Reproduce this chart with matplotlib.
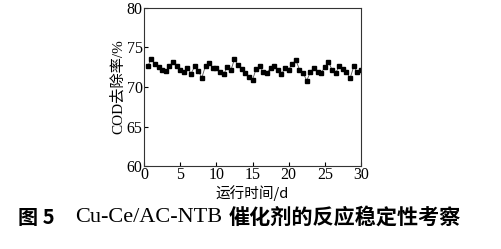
import matplotlib
matplotlib.use('Agg')
import matplotlib.pyplot as plt

# COD removal over 30 days of operation
days = [0.5, 1.0, 1.5, 2.0, 2.5, 3.0, 3.5, 4.0, 4.5, 5.0,
        5.5, 6.0, 6.5, 7.0, 7.5, 8.0, 8.5, 9.0, 9.5, 10.0,
        10.5, 11.0, 11.5, 12.0, 12.5, 13.0, 13.5, 14.0, 14.5, 15.0,
        15.5, 16.0, 16.5, 17.0, 17.5, 18.0, 18.5, 19.0, 19.5, 20.0,
        20.5, 21.0, 21.5, 22.0, 22.5, 23.0, 23.5, 24.0, 24.5, 25.0,
        25.5, 26.0, 26.5, 27.0, 27.5, 28.0, 28.5, 29.0, 29.5, 30.0]
cod = [72.6, 73.6, 72.9, 72.5, 72.1, 72.0, 72.6, 73.2, 72.6, 72.1,
       71.9, 72.4, 71.7, 72.6, 72.0, 71.2, 72.7, 73.0, 72.4, 72.4,
       71.9, 71.6, 72.5, 72.1, 73.5, 72.8, 72.3, 71.8, 71.3, 70.9,
       72.3, 72.6, 71.9, 71.8, 72.4, 72.7, 72.1, 71.6, 72.4, 72.2,
       72.9, 73.4, 72.2, 71.8, 70.8, 71.9, 72.4, 71.9, 71.8, 72.5,
       73.2, 72.2, 71.8, 72.6, 72.3, 71.9, 71.1, 72.6, 71.9, 72.2]
xticks = [0, 5, 10, 15, 20, 25, 30]
yticks = [60, 65, 70, 75, 80]

serif = ['Liberation Serif', 'Noto Sans CJK SC']
cjk = ['Noto Sans CJK SC', 'DejaVu Sans']
plt.rcParams['font.family'] = serif

fig = plt.figure(figsize=(5.02, 2.49), dpi=100)
ax = fig.add_axes([0.287, 0.333, 0.432, 0.635])

ax.plot(days, cod, color='#555555', linewidth=0.6, marker='s', markersize=3,
        markerfacecolor='black', markeredgecolor='black')

ax.set_xlim(0, 30)
ax.set_ylim(60, 80)
ax.set_xticks(xticks)
ax.set_yticks(yticks)
ax.tick_params(direction='in', length=3, width=0.8, labelsize=11.5, pad=1)
for s in ax.spines.values():
    s.set_linewidth(0.8)
    s.set_color('#333333')

ax.set_xlabel('运行时间/d', family=cjk, fontsize=10.5, labelpad=1)
ax.set_ylabel('COD去除率/%', family=serif, fontsize=11, labelpad=1)

fig.text(0.036, 0.128, '图 5', family=cjk, fontsize=14.5, fontweight='bold', va='center')
fig.text(0.149, 0.128, 'Cu-Ce/AC-NTB', family=serif, fontsize=16, va='center')
fig.text(0.455, 0.128, '催化剂的反应稳定性考察', family=cjk, fontsize=15.2, fontweight='bold', va='center')

plt.savefig('out.png', dpi=100)
plt.close()
